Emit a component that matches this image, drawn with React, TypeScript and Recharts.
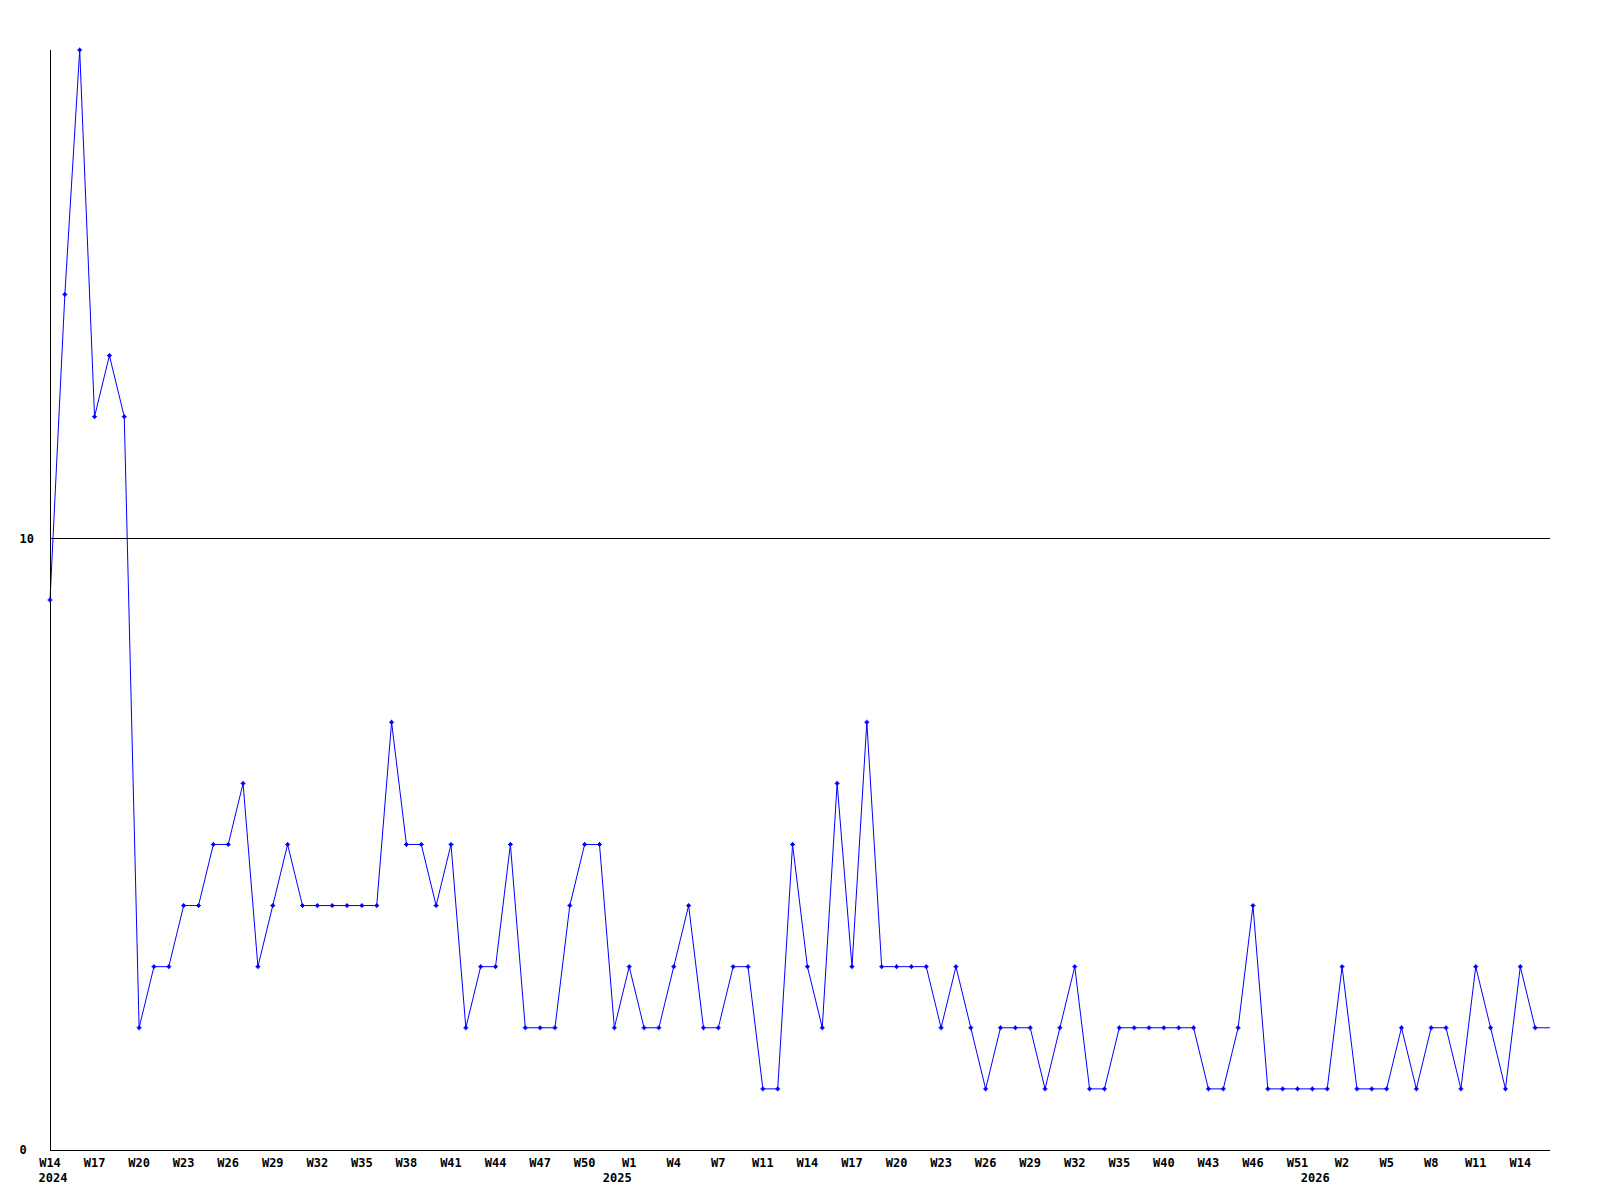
import React from 'react';
import { LineChart, Line, XAxis, YAxis, ReferenceLine } from 'recharts';

// weeks present in the series (a few 2025 weeks have no entry)
const weeks2024 = [
  14, 15, 16, 17, 18, 19, 20, 21, 22, 23, 24, 25, 26, 27, 28, 29, 30, 31, 32, 33,
  34, 35, 36, 37, 38, 39, 40, 41, 42, 43, 44, 45, 46, 47, 48, 49, 50, 51, 52,
];
const weeks2025 = [
  1, 2, 3, 4, 5, 6, 7, 8, 10, 11, 12, 13, 14, 15, 16, 17, 18, 19, 20, 21, 22, 23, 24,
  25, 26, 27, 28, 29, 30, 31, 32, 33, 34, 35, 36, 39, 40, 41, 42, 43, 44, 45, 46, 47,
  50, 51, 52,
];
const weeks2026 = [1, 2, 3, 4, 5, 6, 7, 8, 9, 10, 11, 12, 13, 14, 15, 16];

// last entry is the running (incomplete) week, drawn without a marker
const counts = [
  9, 14, 18, 12, 13, 12, 2, 3, 3, 4,
  4, 5, 5, 6, 3, 4, 5, 4, 4, 4,
  4, 4, 4, 7, 5, 5, 4, 5, 2, 3,
  3, 5, 2, 2, 2, 4, 5, 5, 2, 3,
  2, 2, 3, 4, 2, 2, 3, 3, 1, 1,
  5, 3, 2, 6, 3, 7, 3, 3, 3, 3,
  2, 3, 2, 1, 2, 2, 2, 1, 2, 3,
  1, 1, 2, 2, 2, 2, 2, 2, 1, 1,
  2, 4, 1, 1, 1, 1, 1, 3, 1, 1,
  1, 2, 1, 2, 2, 1, 3, 2, 1, 3, 2,
  2,
];

const yTicks = [0, 10];
const yearStarts: Record<string, string> = {
  '2024-W14': '2024',
  '2025-W1': '2025',
  '2026-W1': '2026',
};

const keys = [
  ...weeks2024.map(w => `2024-W${w}`),
  ...weeks2025.map(w => `2025-W${w}`),
  ...weeks2026.map(w => `2026-W${w}`),
];

const data = keys.map((key, i) => ({ key, count: counts[i] }));

// a week label on every third entry
const weekTicks = keys.filter((_, i) => i % 3 === 0 && i < counts.length - 1);
const weekTickSet = new Set(weekTicks);
const allTicks = keys.filter(k => weekTickSet.has(k) || yearStarts[k]);

const FONT = '"DejaVu Sans Mono", "Liberation Mono", monospace';

const WeekTick = ({ x, y, payload }: any) => {
  const key: string = payload.value;
  const year = yearStarts[key];
  // year labels sit a little before the first week of the year
  const yearDx = key === keys[0] ? 3 : -12;
  return (
    <g>
      {weekTickSet.has(key) && (
        <text x={x} y={y + 17} textAnchor="middle" fontFamily={FONT} fontWeight="bold" fontSize={12} fill="#000">
          {key.split('-')[1]}
        </text>
      )}
      {year && (
        <text x={x + yearDx} y={y + 32} textAnchor="middle" fontFamily={FONT} fontWeight="bold" fontSize={12} fill="#000">
          {year}
        </text>
      )}
    </g>
  );
};

const ValueTick = ({ x, y, payload }: any) => (
  <text x={x - 30.5} y={y} dy="0.35em" textAnchor="start" fontFamily={FONT} fontWeight="bold" fontSize={12} fill="#000">
    {payload.value}
  </text>
);

const Marker = (props: any) => {
  const { cx, cy, index } = props;
  if (index === counts.length - 1 || cx == null) return <g key={`m-${index}`} />;
  return (
    <g key={`m-${index}`}>
      <rect x={cx - 1.5} y={cy - 1.5} width={3} height={3} fill="#0000ff" />
      <path d={`M${cx - 2.5},${cy}h5M${cx},${cy - 2.5}v5`} stroke="#0000ff" strokeWidth={1} />
    </g>
  );
};

export default function App() {
  return (
    <div style={{ width: 1584, height: 1184, background: '#fff' }}>
      <LineChart width={1584} height={1184} data={data} margin={{ top: 42, right: 42, bottom: 0, left: 0 }}>
        <XAxis
          dataKey="key"
          ticks={allTicks}
          interval={0}
          height={42}
          tickLine={false}
          tickSize={0}
          tickMargin={0}
          axisLine={{ stroke: '#000', shapeRendering: 'crispEdges' }}
          tick={<WeekTick />}
        />
        <YAxis
          domain={[0, 18]}
          ticks={yTicks}
          width={42}
          tickLine={false}
          tickSize={0}
          tickMargin={0}
          axisLine={{ stroke: '#000', shapeRendering: 'crispEdges' }}
          tick={<ValueTick />}
        />
        <ReferenceLine y={10} stroke="#000" strokeWidth={1} shapeRendering="crispEdges" />
        <Line
          type="linear"
          dataKey="count"
          stroke="#0000ff"
          strokeWidth={1}
          dot={Marker}
          activeDot={false}
          isAnimationActive={false}
        />
      </LineChart>
    </div>
  );
}
